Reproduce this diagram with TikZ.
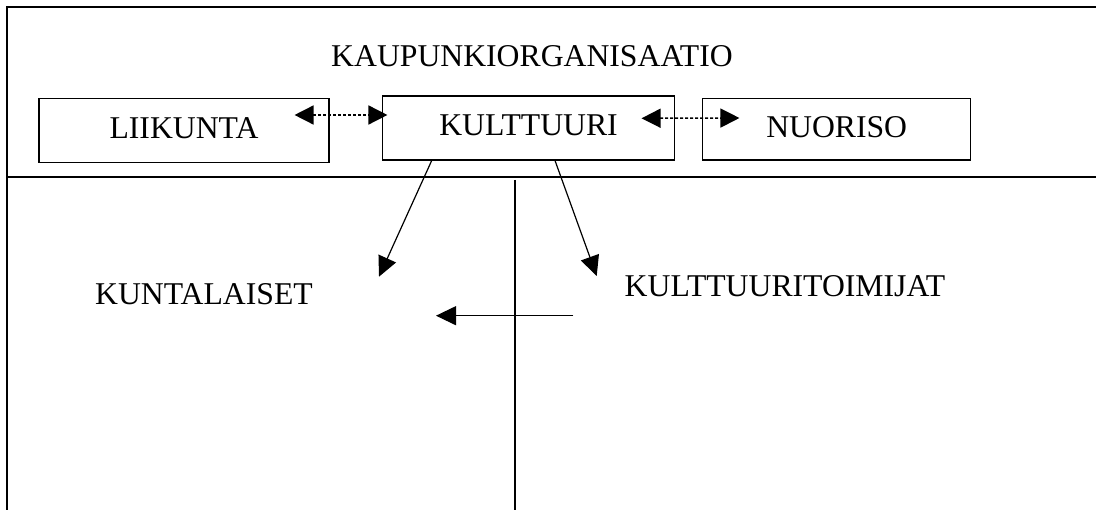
\documentclass[tikz,border=0pt]{standalone}
\usepackage{fontspec}
\setmainfont{Liberation Serif}
\usetikzlibrary{arrows.meta,calc}
\begin{document}
\begin{tikzpicture}[x=1pt,y=-1pt,
  frame/.style={line width=2pt,line cap=rect},
  unitbox/.style={draw,line width=1.1pt,inner sep=0pt,text height=21pt,text depth=5pt},
  plain/.style={inner sep=0pt,anchor=base},
  tri/.style={-{Triangle[length=20pt,width=19pt]}},
  solidarrow/.style={tri,line width=1.2pt},
  dotarrow/.style={{Triangle[length=19pt,width=19pt]}-{Triangle[length=19pt,width=19pt]},line width=1.5pt,dash pattern=on 3pt off 2pt},
  every node/.style={font=\fontsize{31.7}{36}\selectfont}]
\useasboundingbox (0,0) rectangle (1096,510);
\fill[white] (0,0) rectangle (1096,510);
% frame
\draw[frame] (1100,7) -- (7,7) -- (7,514);
\draw[frame] (7,177) -- (1100,177);
% title
\node[plain] (title) at (532,66.7) {KAUPUNKIORGANISAATIO};
% boxes
\node[unitbox,minimum width=290pt,minimum height=64pt] (lii) at (184,130.7) {LIIKUNTA};
\node[unitbox,minimum width=291.6pt,minimum height=64pt] (kul) at (528.5,128) {KULTTUURI};
\node[unitbox,minimum width=268pt,minimum height=61.7pt] (nuo) at (836.7,129.2) {NUORISO};
% lower labels
\node[plain] (kunta) at (204,305) {KUNTALAISET};
\node[plain] (toim) at (785,296.7) {KULTTUURITOIMIJAT};
% dotted double arrows
\coordinate (d1a) at ($(lii.east)+(-35,-15.7)$);
\coordinate (d1b) at ($(kul.west)+(5.3,-13)$);
\draw[dotarrow] (d1a) -- (d1b);
\coordinate (d2a) at ($(kul.east)+(-33.3,-9.7)$);
\coordinate (d2b) at ($(nuo.west)+(37.3,-11.2)$);
\draw[dotarrow] (d2a) -- (d2b);
% solid arrows from KULTTUURI
\coordinate (s1) at ($(kul.south)+(-96.8,0)$);
\coordinate (t1) at (379,276.7);
\draw[solidarrow] (s1) -- (t1);
\coordinate (s2) at ($(kul.south)+(26.5,0)$);
\coordinate (t2) at (596.7,276);
\draw[solidarrow] (s2) -- (t2);
% vertical divider and horizontal arrow
\coordinate (v1) at (515,180);
\coordinate (v2) at (515,512);
\draw[line width=1.3pt] (v1) -- (v2);
\coordinate (h1) at (573.3,315.7);
\coordinate (h2) at (436,315.7);
\draw[solidarrow] (h1) -- (h2);
\end{tikzpicture}
\end{document}
